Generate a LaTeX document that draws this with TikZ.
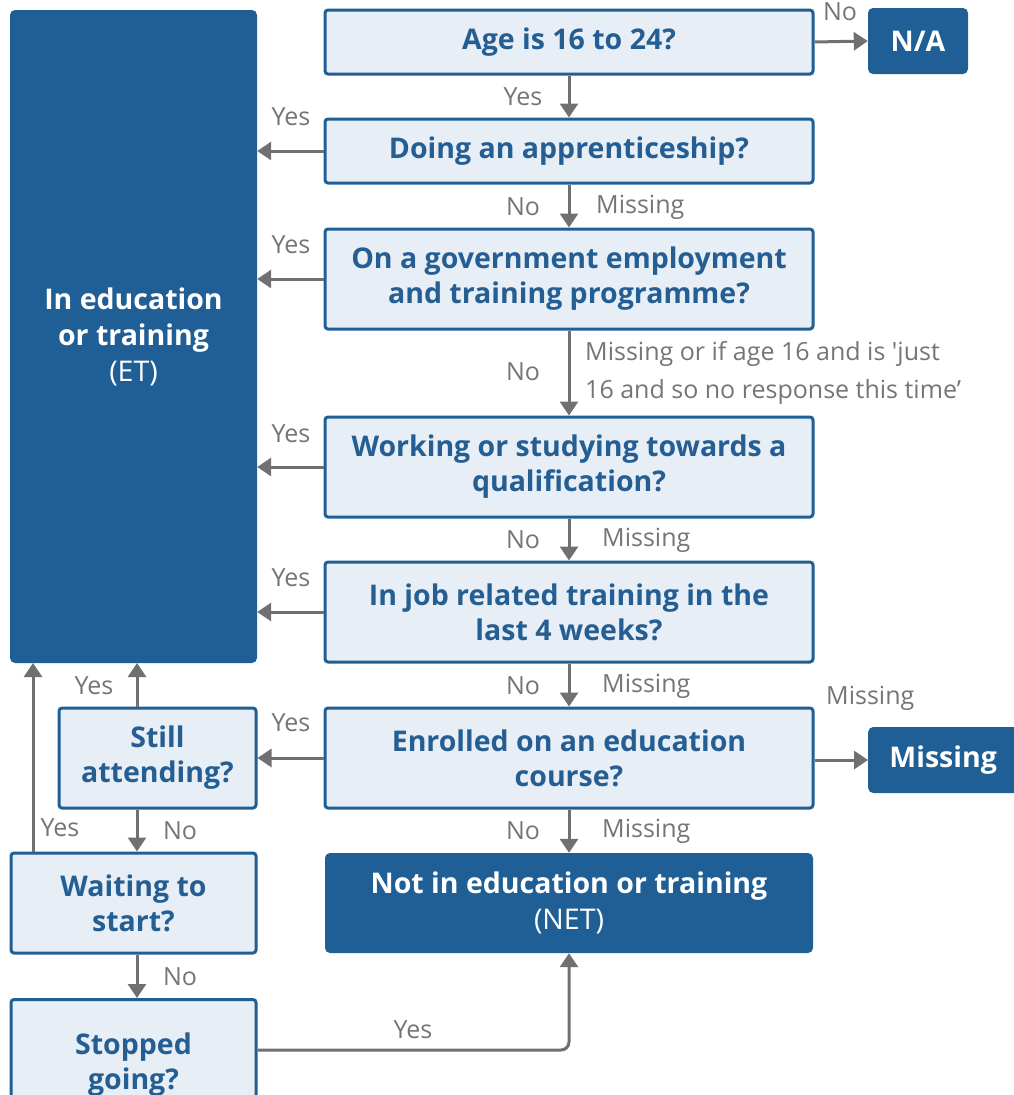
\documentclass[tikz,border=0pt]{standalone}
\usepackage{fontspec}
\setmainfont{Open Sans}
\usetikzlibrary{arrows.meta}
\definecolor{dkblue}{HTML}{1F5F96}
\definecolor{ltfill}{HTML}{E8EEF5}
\definecolor{txtblue}{HTML}{245E93}
\definecolor{arrgray}{HTML}{707070}
\definecolor{lblgray}{HTML}{757575}
\tikzset{
  qbox/.style={draw=dkblue, line width=3pt, fill=ltfill, rounded corners=3pt, align=center, text=txtblue, font=\fontsize{28.5}{35}\selectfont\bfseries, inner sep=0pt},
  dbox/.style={fill=dkblue, rounded corners=5pt, align=center, text=white, font=\fontsize{28.5}{36}\selectfont\bfseries, inner sep=0pt},
  conn/.style={draw=arrgray, line width=3pt, -{Triangle[length=14pt,width=18pt]}},
  lbl/.style={text=lblgray, font=\fontsize{25}{38}\selectfont, inner sep=0pt},
}
\begin{document}
\begin{tikzpicture}[x=1pt,y=-1pt]
\useasboundingbox (0,0) rectangle (1013,1095);
% dark boxes
\node[dbox, minimum width=247, minimum height=653] (et) at (133.5,336.5) {In education\\or training\\{\mdseries (ET)}};
\node[dbox, minimum width=100, minimum height=66] (na) at (918,41) {N/A};
\node[dbox, minimum width=150, minimum height=66, anchor=west] (miss) at (868,760) {Missing};
\node[dbox, minimum width=488, minimum height=100] (net) at (569,903) {Not in education or training\\{\mdseries (NET)}};
% question boxes
\node[qbox, minimum width=488, minimum height=64] (age) at (569,42) {Age is 16 to 24?};
\node[qbox, minimum width=488, minimum height=64] (app) at (569,151) {Doing an apprenticeship?};
\node[qbox, minimum width=488, minimum height=100] (gov) at (569,279) {On a government employment\\and training programme?};
\node[qbox, minimum width=488, minimum height=100] (work) at (569,467) {Working or studying towards a\\qualification?};
\node[qbox, minimum width=488, minimum height=100] (job) at (569,612) {In job related training in the\\last 4 weeks?};
\node[qbox, minimum width=488, minimum height=100] (enr) at (569,758) {Enrolled on an education\\course?};
\node[qbox, minimum width=197, minimum height=100] (still) at (157.5,758) {Still\\attending?};
\node[qbox, minimum width=245, minimum height=100] (wait) at (133.5,903) {Waiting to\\start?};
\node[qbox, minimum width=245, minimum height=130, anchor=north] (stop) at (133.5,998) {Stopped\\going?};
% connectors
\draw[conn] (age.east) -- (na.west);
\draw[conn] (age.south) -- (app.north);
\draw[conn] (app.west) -- (app.west -| et.east);
\draw[conn] (app.south) -- (gov.north);
\draw[conn] (gov.west) -- (gov.west -| et.east);
\draw[conn] (gov.south) -- (work.north);
\draw[conn] (work.west) -- (work.west -| et.east);
\draw[conn] (work.south) -- (job.north);
\draw[conn] (job.west) -- (job.west -| et.east);
\draw[conn] (job.south) -- (enr.north);
\draw[conn] (enr.west) -- (still.east);
\draw[conn] (enr.east |- miss.west) -- (miss.west);
\draw[conn] (enr.south) -- (net.north);
\draw[conn] (still.north -| 137,0) -- (137,663);
\draw[conn] (still.south -| 137,0) -- (wait.north -| 137,0);
\draw[conn] (wait.north -| 33,0) -- (33,663);
\draw[conn] (wait.south -| 137,0) -- (stop.north -| 137,0);
\draw[conn, rounded corners=8pt] (stop.east |- 0,1050) -- (569,1050) -- (net.south);
% labels
\node[lbl] at (840,12) {No};
\node[lbl] at (523,97) {Yes};
\node[lbl] at (291,117) {Yes};
\node[lbl] at (523,207) {No};
\node[lbl, anchor=west] at (596,207) {Missing};
\node[lbl] at (291,245) {Yes};
\node[lbl] at (523,372) {No};
\node[lbl, anchor=west, align=left] at (585,373) {Missing or if age 16 and is \textquotesingle just\\16 and so no response this time’};
\node[lbl] at (291,434) {Yes};
\node[lbl] at (523,540) {No};
\node[lbl, anchor=west] at (602,540) {Missing};
\node[lbl] at (291,578) {Yes};
\node[lbl] at (523,686) {No};
\node[lbl, anchor=west] at (602,686) {Missing};
\node[lbl] at (291,723) {Yes};
\node[lbl, anchor=west] at (826,698) {Missing};
\node[lbl] at (523,831) {No};
\node[lbl, anchor=west] at (602,831) {Missing};
\node[lbl] at (94,686) {Yes};
\node[lbl] at (180,831) {No};
\node[lbl] at (60,828) {Yes};
\node[lbl] at (180,977) {No};
\node[lbl] at (413,1030) {Yes};
\end{tikzpicture}
\end{document}
